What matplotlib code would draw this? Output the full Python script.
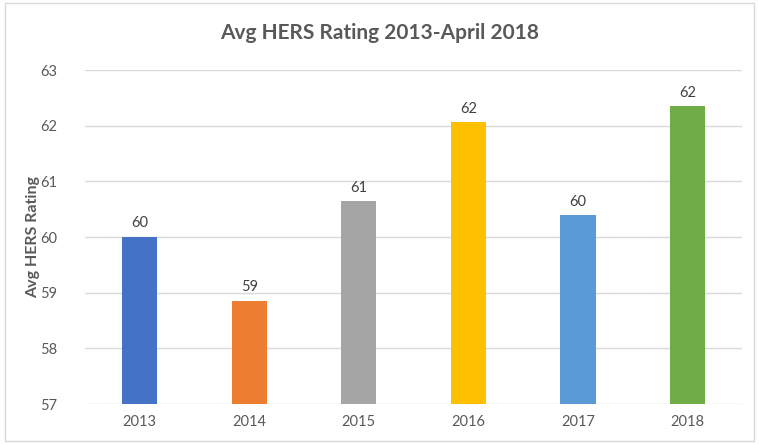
import matplotlib.pyplot as plt

# --- data ---
years = ['2013', '2014', '2015', '2016', '2017', '2018']
ratings = [60.0, 58.86, 60.64, 62.06, 60.39, 62.35]
colors = ['#4472C4', '#ED7D31', '#A5A5A5', '#FFC000', '#5B9BD5', '#70AD47']

plt.rcParams['font.family'] = ['Lato', 'DejaVu Sans']
txt = '#595959'

fig = plt.figure(figsize=(7.59, 4.44), dpi=100)
ax = fig.add_axes([0.112, 0.090, 0.866, 0.752])

x = range(len(years))
bars = ax.bar(x, [r - 57 for r in ratings], bottom=57, width=0.32, color=colors, zorder=3)

for xi, r in zip(x, ratings):
    ax.text(xi, r + 0.12, f"{r:.0f}", ha='center', va='bottom', fontsize=10.5, color='#404040')

ax.set_ylim(57, 63)
ax.set_xlim(-0.5, len(years) - 0.5)
ax.set_yticks(range(57, 64))
ax.set_xticks(list(x))
ax.set_xticklabels(years)
ax.tick_params(axis='both', length=0, labelsize=10.5, colors=txt)
ax.tick_params(axis='y', pad=20)
ax.tick_params(axis='x', pad=8)
ax.grid(axis='y', color='#D9D9D9', linewidth=1, zorder=0)
for s in ax.spines.values():
    s.set_visible(False)

ax.set_ylabel("Avg HERS Rating", fontsize=11.5, fontweight='bold', color=txt)
ax.yaxis.set_label_coords(-0.068, 0.5)
fig.text(0.5, 0.925, "Avg HERS Rating 2013-April 2018", ha='center', va='center',
         fontsize=15, fontweight='bold', color=txt)

# chart frame
fig.patches.append(plt.Rectangle((0.006, 0.006), 0.988, 0.988, transform=fig.transFigure,
                                 fill=False, edgecolor='#D9D9D9', linewidth=1))

fig.savefig('out.png', dpi=100)
